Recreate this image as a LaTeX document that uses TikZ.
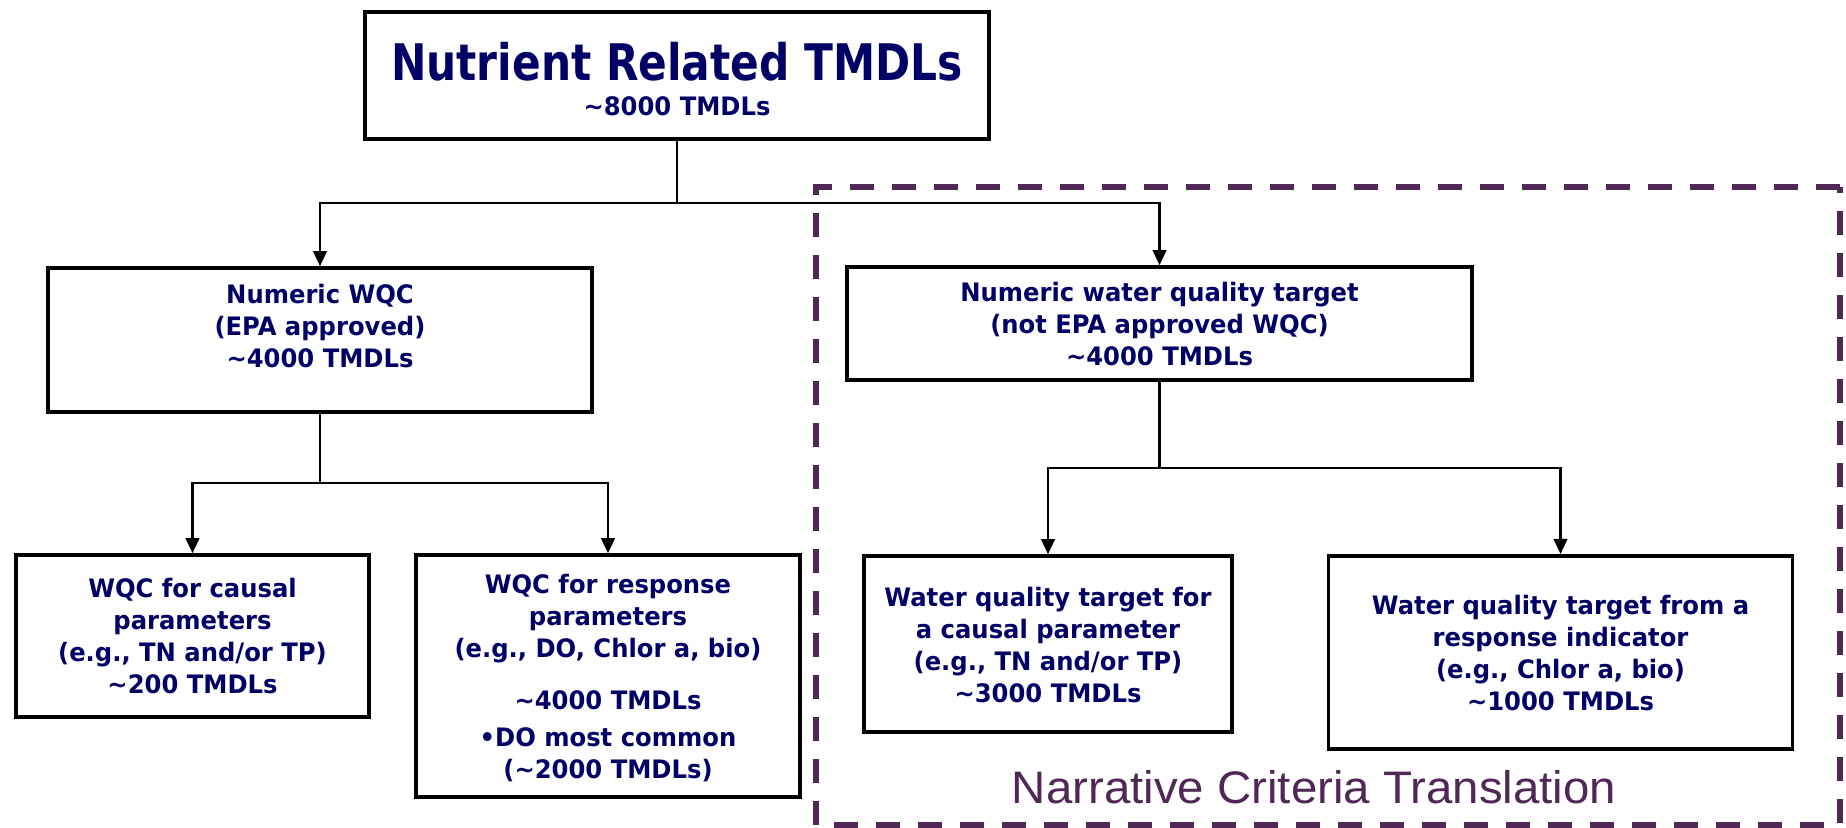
\documentclass[tikz,border=0pt]{standalone}
\usepackage{fontspec}
\usetikzlibrary{arrows.meta}
\newfontfamily\bodyf{DejaVu Sans}[FakeStretch=0.955]
\newfontfamily\titlef{DejaVu Sans}[FakeStretch=0.84]
\newfontfamily\narrf{Liberation Sans}
\definecolor{navy}{RGB}{0,0,102}
\definecolor{plum}{RGB}{80,40,85}
\begin{document}
\begin{tikzpicture}[x=0.5pt,y=-0.5pt,
  box/.style={draw=black, line width=1.8pt, fill=white, inner sep=0pt},
  txt/.style={anchor=base, align=center, text=navy, inner sep=0pt,
    font=\bodyf\bfseries\fontsize{12.7}{16}\selectfont},
  conn/.style={draw=black, line width=1.1pt},
  arr/.style={conn, -{Triangle[length=7.5pt,width=6.8pt]}},
  frame/.style={draw=plum, line width=3pt, dash pattern=on 12pt off 9pt}]
\useasboundingbox (0,0) rectangle (1846,827);
\fill[white] (0,0) rectangle (1846,827);

% dashed frame
\draw[frame] (1840,187) -- (816,187) -- (816,825) -- (1840,825) -- cycle;

% boxes
\node[box, minimum width=312pt, minimum height=63.5pt] (top) at (677,75.5) {};
\node[box, minimum width=272pt, minimum height=72pt] (A) at (320,340) {};
\node[box, minimum width=312.5pt, minimum height=56.5pt] (B) at (1159.5,323.5) {};
\node[box, minimum width=176.5pt, minimum height=81pt] (C) at (192.5,636) {};
\node[box, minimum width=192pt, minimum height=121pt] (D) at (608,676) {};
\node[box, minimum width=184pt, minimum height=88pt] (E) at (1048,644) {};
\node[box, minimum width=232pt, minimum height=96.5pt] (F) at (1560.5,652.25) {};

% texts
\node[txt, font=\titlef\bfseries\fontsize{25.2}{30}\selectfont] (toptitle) at (677,80) {Nutrient Related TMDLs};
\node[txt] (topsub) at (677,115) {\textasciitilde8000 TMDLs};
\node[txt] (Atxt) at (320,367) {Numeric WQC\\(EPA approved)\\\textasciitilde4000 TMDLs};
\node[txt] (Btxt) at (1159.5,365) {Numeric water quality target\\(not EPA approved WQC)\\\textasciitilde4000 TMDLs};
\node[txt] (Ctxt) at (192.5,693) {WQC for causal\\parameters\\(e.g., TN and/or TP)\\\textasciitilde200 TMDLs};
\node[txt] (Dtxt) at (608,778) {WQC for response\\parameters\\(e.g., DO, Chlor a, bio)\\[10pt]\textasciitilde4000 TMDLs\\[2.5pt]\textbullet DO most common\\(\textasciitilde2000 TMDLs)};
\node[txt] (Etxt) at (1048,702) {Water quality target for\\a causal parameter\\(e.g., TN and/or TP)\\\textasciitilde3000 TMDLs};
\node[txt] (Ftxt) at (1560.5,710) {Water quality target from a\\response indicator\\(e.g., Chlor a, bio)\\\textasciitilde1000 TMDLs};
\node[anchor=base, inner sep=0pt, text=plum, font=\narrf\fontsize{22.8}{26}\selectfont] (narr) at (1314,803) {\scalebox{1.04}[1]{Narrative Criteria Translation}};

% connectors
\coordinate (j1) at (677,203);
\coordinate (j2) at (320,483);
\coordinate (j3) at (1159.5,468);
\draw[conn] (top.south) -- (j1);
\draw[arr] (j1) -| (A.north);
\draw[arr] (j1) -| (B.north);
\draw[conn] (A.south) -- (j2);
\draw[arr] (j2) -| (C.north);
\draw[arr] (j2) -| (D.north);
\draw[conn] (B.south) -- (j3);
\draw[arr] (j3) -| (E.north);
\draw[arr] (j3) -| (F.north);
\end{tikzpicture}
\end{document}
